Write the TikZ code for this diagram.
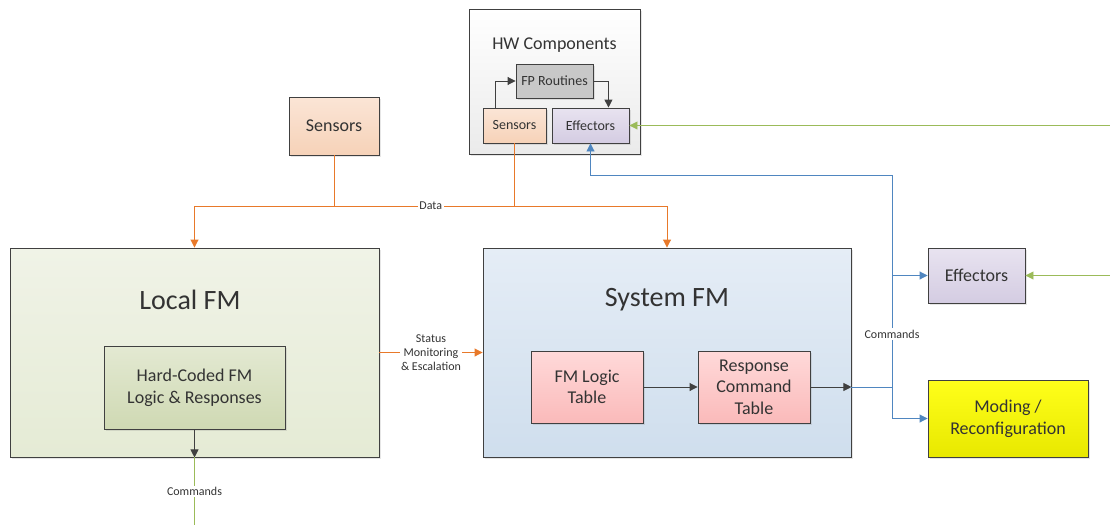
\documentclass[tikz,border=0pt]{standalone}
\usepackage{fontspec}
\setmainfont{Carlito}
\usetikzlibrary{arrows.meta,shadows}

\definecolor{linegray}{HTML}{404040}
\definecolor{dataorange}{HTML}{E8792A}
\definecolor{cmdblue}{HTML}{4F86C0}
\definecolor{extgreen}{HTML}{9BBB59}
\definecolor{peachtop}{HTML}{FBE5D6}
\definecolor{peachbot}{HTML}{F6D2B8}
\definecolor{lavtop}{HTML}{E8E3F0}
\definecolor{lavbot}{HTML}{D4CCE2}
\definecolor{lfmtop}{HTML}{F0F3E7}
\definecolor{lfmbot}{HTML}{E5EBD5}
\definecolor{hctop}{HTML}{E3E9D2}
\definecolor{hcbot}{HTML}{CFD9B3}
\definecolor{sfmtop}{HTML}{E5EDF6}
\definecolor{sfmbot}{HTML}{CFDEED}
\definecolor{pinktop}{HTML}{FFD9D9}
\definecolor{pinkbot}{HTML}{FABABA}
\definecolor{fpgray}{HTML}{C8C8C8}
\definecolor{modtop}{HTML}{FFFF1A}
\definecolor{modbot}{HTML}{E8E800}

\begin{document}
\begin{tikzpicture}[x=1pt, y=-1pt, line width=0.9pt,
	every node/.style={font=\fontsize{18}{21.6}\selectfont, text=black!80},
	box/.style={draw=linegray, inner sep=0pt, align=center,
		drop shadow={shadow xshift=2pt, shadow yshift=-2pt, opacity=0.2}},
	tip/.style={-{Triangle[length=8pt,width=8pt]}},
	arr/.style={draw=linegray, tip},
	dataline/.style={draw=dataorange},
	cmdline/.style={draw=cmdblue},
	extline/.style={draw=extgreen},
	lbl/.style={fill=white, inner sep=1.5pt, align=center, font=\fontsize{12}{14.2}\selectfont},
	bigtitle/.style={font=\fontsize{28}{33}\selectfont},
	smalltxt/.style={font=\fontsize{14}{16.8}\selectfont}]
	
	\useasboundingbox (0,0) rectangle (1110,525);
	
	% HW components
	\node[box, minimum width=171pt, minimum height=145pt, top color=white, bottom color=black!8] (hw) at (554.5,81.5) {};
	\node (hwtitle) at (554.5,45) {HW Components};
	\node[box, smalltxt, minimum width=77pt, minimum height=34pt, fill=fpgray] (fp) at (554.5,81) {FP Routines};
	\node[box, smalltxt, minimum width=63pt, minimum height=35pt, top color=peachtop, bottom color=peachbot] (hwsens) at (514.5,125.5) {Sensors};
	\node[box, smalltxt, minimum width=77pt, minimum height=35pt, top color=lavtop, bottom color=lavbot] (hweff) at (590.5,125.5) {Effectors};
	
	% Sensors
	\node[box, minimum width=90pt, minimum height=58pt, top color=peachtop, bottom color=peachbot] (sens) at (334,126) {Sensors};
	
	% Local FM
	\node[box, minimum width=369pt, minimum height=209pt, top color=lfmtop, bottom color=lfmbot] (lfm) at (194.5,352.5) {};
	\node[bigtitle] (lfmtitle) at (190,300) {Local FM};
	\node[box, minimum width=181pt, minimum height=83pt, top color=hctop, bottom color=hcbot] (hc) at (194.5,387.5) {Hard-Coded FM\\Logic \& Responses};
	
	% System FM
	\node[box, minimum width=368pt, minimum height=209pt, top color=sfmtop, bottom color=sfmbot] (sfm) at (667,352.5) {};
	\node[bigtitle] (sfmtitle) at (667,300) {System FM};
	\node[box, minimum width=112pt, minimum height=72pt, top color=pinktop, bottom color=pinkbot] (flt) at (587,387) {FM Logic\\Table};
	\node[box, minimum width=112pt, minimum height=72pt, top color=pinktop, bottom color=pinkbot] (rct) at (754,387) {Response\\Command\\Table};
	
	% Effectors und Moding
	\node[box, minimum width=97pt, minimum height=55pt, top color=lavtop, bottom color=lavbot] (eff) at (976.5,275.5) {Effectors};
	\node[box, minimum width=160pt, minimum height=77pt, top color=modtop, bottom color=modbot] (mod) at (1008,418.5) {Moding /\\Reconfiguration};
	
	\coordinate (dbus) at (0,206);
	\coordinate (cmdx) at (892,175);
	\coordinate (redge) at (1110,0);
	\coordinate (lowend) at (194.5,525);
	
	% inside HW
	\draw[arr] ([xshift=13pt]hwsens.north west) |- (fp.west);
	\draw[arr] (fp.east) -| ([xshift=-21pt]hweff.north east);
	
	% Data
	\draw[dataline] (sens.south) -- (sens.south |- dbus);
	\draw[dataline] (hwsens.south) -- (hwsens.south |- dbus);
	\draw[dataline] (lfm.north |- dbus) -- node[lbl] (datalbl) {Data} (sfm.north |- dbus);
	\draw[dataline, tip] (lfm.north |- dbus) -- (lfm.north);
	\draw[dataline, tip] (sfm.north |- dbus) -- (sfm.north);
	
	% Status
	\draw[dataline, tip] (lfm.east) -- node[lbl] (statlbl) {Status\\Monitoring\\\& Escalation} (sfm.west);
	
	% System FM tables
	\draw[arr] (flt.east) -- (rct.west);
	\draw[arr] (rct.east) -- (rct.east -| sfm.east);
	
	% Commands
	\draw[cmdline, tip] (rct.east -| sfm.east) -| (cmdx) -| (hweff.south);
	\draw[cmdline, tip] (eff.west -| cmdx) -- (eff.west);
	\draw[cmdline, tip] (rct.east -| cmdx) |- (mod.west);
	\node[lbl] (cmdlbl) at (cmdx |- 0,334) {Commands};
	
	% extern
	\draw[extline, tip] (hweff.east -| redge) -- (hweff.east);
	\draw[extline, tip] (eff.east -| redge) -- (eff.east);
	
	% Local commands
	\draw[arr] (hc.south) -- (hc.south |- lfm.south);
	\draw[extline] (hc.south |- lfm.south) -- node[lbl] (lcmdlbl) {Commands} (lowend);
	
\end{tikzpicture}
\end{document}
